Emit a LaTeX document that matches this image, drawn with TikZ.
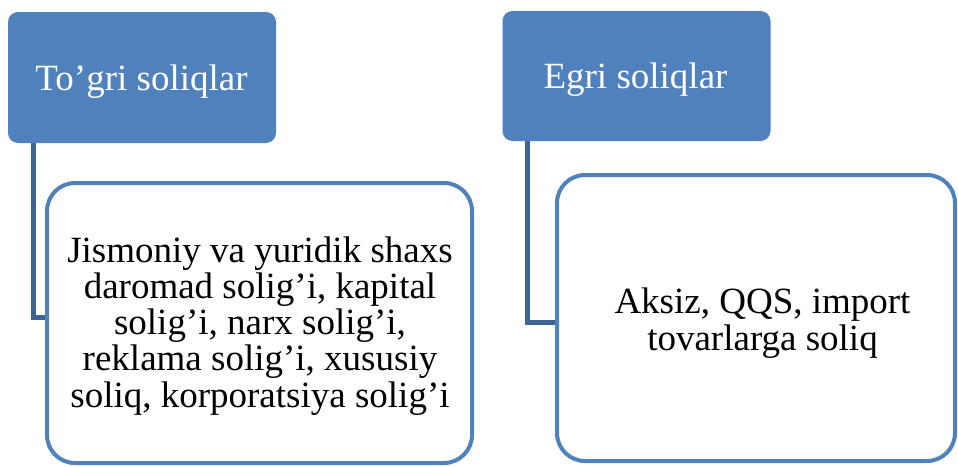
\documentclass[tikz,border=0pt]{standalone}
\usepackage{fontspec}
\setmainfont{Liberation Serif}
\definecolor{accent}{RGB}{79,129,189}
\definecolor{connblue}{RGB}{62,100,150}
\tikzset{
  headbox/.style={fill=accent, draw=none, rounded corners=10pt, minimum width=268, minimum height=131, inner sep=0pt},
  headtext/.style={text=white, font=\fontsize{37}{36.3}\selectfont, anchor=base, inner sep=0pt},
  childbox/.style={draw=accent, fill=white, line width=4pt, rounded corners=28pt, inner sep=0pt},
  childtext/.style={text=black, font=\fontsize{37}{36.3}\selectfont, align=center, anchor=base, inner sep=0pt},
  conn/.style={draw=connblue, line width=5pt}
}
\begin{document}
\begin{tikzpicture}[x=1pt,y=-1pt]
\useasboundingbox (0,0) rectangle (958,466);
% headers
\node[headbox] (h1) at (142,77.5) {};
\node[headbox, minimum height=130] (h2) at (636.5,76) {};
\node[headtext] (t1) at (141.5,90) {To’gri soliqlar};
\node[headtext] (t2) at (635.5,88) {Egri soliqlar};
% children
\node[childbox, minimum width=425, minimum height=280] (c1) at (259.5,323) {};
\node[childbox, minimum width=398, minimum height=286] (c2) at (756,318) {};
\node[childtext] (u1) at (260,407.2) {Jismoniy va yuridik shaxs\\daromad solig’i, kapital\\solig’i, narx solig’i,\\reklama solig’i, xususiy\\soliq, korporatsiya solig’i};
\node[childtext] (u2) at (762.5,350) {Aksiz, QQS, import\\tovarlarga soliq};
% connectors
\draw[conn] ([xshift=25.5pt]h1.south west) |- ([yshift=6pt]c1.west);
\draw[conn] ([xshift=25pt]h2.south west) |- ([yshift=-4pt]c2.west);
\end{tikzpicture}
\end{document}
